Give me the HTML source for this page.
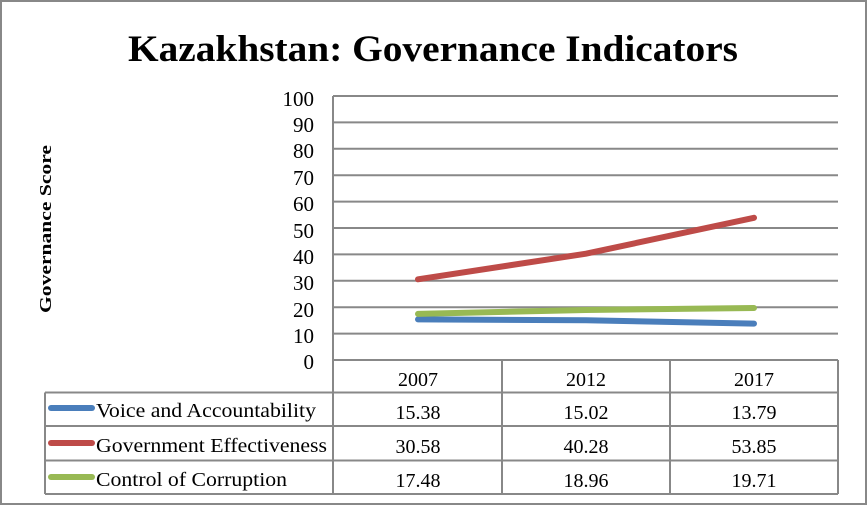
<!DOCTYPE html>
<html><head><meta charset="utf-8"><style>
html,body{margin:0;padding:0;background:#fff;}
svg{display:block;font-family:"Liberation Serif",serif;}
</style></head><body>
<svg width="867" height="506" viewBox="0 0 867 506">
<rect x="1" y="1" width="865" height="503" fill="#fff" stroke="#888" stroke-width="2"/>
<text x="128" y="61" font-size="37" font-weight="bold" textLength="610" lengthAdjust="spacingAndGlyphs">Kazakhstan: Governance Indicators</text>
<text transform="translate(51,313) rotate(-90)" font-size="17" font-weight="bold" textLength="168" lengthAdjust="spacingAndGlyphs">Governance Score</text>
<g stroke="#888" stroke-width="2" fill="none">
<line x1="333" y1="96" x2="838" y2="96"/>
<line x1="333" y1="122.4" x2="838" y2="122.4"/>
<line x1="333" y1="148.8" x2="838" y2="148.8"/>
<line x1="333" y1="175.2" x2="838" y2="175.2"/>
<line x1="333" y1="201.6" x2="838" y2="201.6"/>
<line x1="333" y1="228" x2="838" y2="228"/>
<line x1="333" y1="254.4" x2="838" y2="254.4"/>
<line x1="333" y1="280.8" x2="838" y2="280.8"/>
<line x1="333" y1="307.2" x2="838" y2="307.2"/>
<line x1="333" y1="333.6" x2="838" y2="333.6"/>
<line x1="333" y1="360" x2="838" y2="360"/>
<line x1="333" y1="96" x2="333" y2="494"/>
<line x1="502" y1="360" x2="502" y2="494"/>
<line x1="670" y1="360" x2="670" y2="494"/>
<line x1="838" y1="360" x2="838" y2="494"/>
<line x1="45" y1="392.5" x2="838" y2="392.5"/>
<line x1="45" y1="426" x2="838" y2="426"/>
<line x1="45" y1="460.5" x2="838" y2="460.5"/>
<line x1="45" y1="494" x2="838" y2="494"/>
<line x1="45" y1="392.5" x2="45" y2="494"/>
</g>
<g font-size="21" text-anchor="end">
<text x="314" y="106">100</text><text x="314" y="132">90</text><text x="314" y="158">80</text>
<text x="314" y="185">70</text><text x="314" y="211">60</text><text x="314" y="238">50</text>
<text x="314" y="264">40</text><text x="314" y="290">30</text><text x="314" y="317">20</text>
<text x="314" y="343">10</text><text x="314" y="369">0</text>
</g>
<g stroke-width="6" stroke-linecap="round" fill="none">
<polyline points="418,319.4 586,320.3 754,323.6" stroke="#4a7ebb"/>
<polyline points="418,279.3 586,253.7 754,217.8" stroke="#be4b48"/>
<polyline points="418,313.9 586,310 754,308" stroke="#98b954"/>
<line x1="51" y1="408" x2="92" y2="408" stroke="#4a7ebb" stroke-width="6"/>
<line x1="51" y1="443" x2="92" y2="443" stroke="#be4b48" stroke-width="6"/>
<line x1="51" y1="477" x2="92" y2="477" stroke="#98b954" stroke-width="6"/>
</g>
<g font-size="20" text-anchor="middle">
<text x="418" y="386">2007</text><text x="586" y="386">2012</text><text x="754" y="386">2017</text>
<text x="418" y="419">15.38</text><text x="586" y="419">15.02</text><text x="754" y="419">13.79</text>
<text x="418" y="453">30.58</text><text x="586" y="453">40.28</text><text x="754" y="453">53.85</text>
<text x="418" y="487">17.48</text><text x="586" y="487">18.96</text><text x="754" y="487">19.71</text>
</g>
<g font-size="20">
<text x="96" y="417" textLength="220" lengthAdjust="spacingAndGlyphs">Voice and Accountability</text>
<text x="96" y="452" textLength="231" lengthAdjust="spacingAndGlyphs">Government Effectiveness</text>
<text x="96" y="486" textLength="191" lengthAdjust="spacingAndGlyphs">Control of Corruption</text>
</g>
</svg>
</body></html>
